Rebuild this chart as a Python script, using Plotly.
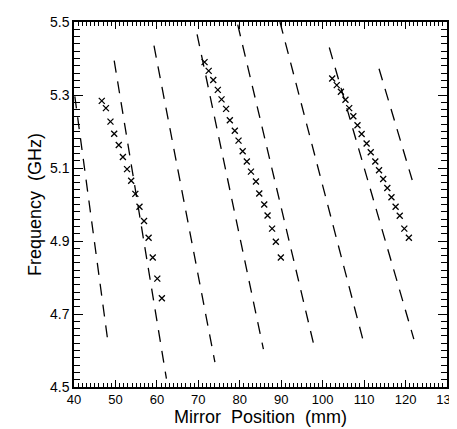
import plotly.graph_objects as go

# Measured points (x marks): mirror position (mm) vs frequency (GHz)
s1_x = [46.7, 47.7, 48.8, 49.7, 50.8, 51.8, 52.8, 53.8, 54.8, 55.8, 56.9, 58.0, 59.0, 60.1, 61.2]
s1_y = [5.284, 5.264, 5.227, 5.194, 5.163, 5.130, 5.097, 5.065, 5.029, 4.994, 4.955, 4.909, 4.855, 4.797, 4.743]

s2_x = [71.5, 72.5, 73.6, 74.7, 75.6, 76.7, 77.6, 78.8, 79.7, 80.7, 81.7, 82.7, 83.9, 84.7, 85.9, 86.7, 87.8, 88.7, 89.9]
s2_y = [5.390, 5.366, 5.341, 5.314, 5.288, 5.262, 5.231, 5.202, 5.175, 5.146, 5.118, 5.090, 5.063, 5.030, 5.000, 4.970, 4.934, 4.898, 4.855]

s3_x = [102.3, 103.4, 104.4, 105.5, 106.4, 107.4, 108.4, 109.4, 110.6, 111.6, 112.7, 113.6, 114.6, 115.6, 116.6, 117.6, 118.6, 119.7, 120.8]
s3_y = [5.345, 5.327, 5.309, 5.287, 5.264, 5.242, 5.217, 5.193, 5.167, 5.143, 5.118, 5.094, 5.070, 5.045, 5.020, 4.994, 4.969, 4.934, 4.909]

# Dashed (calculated) mode lines: start and end points
line_x_start = [40.2, 49.7, 59.3, 69.7, 79.5, 89.7, 101.6, 113.6]
line_y_start = [5.296, 5.394, 5.435, 5.466, 5.493, 5.500, 5.430, 5.372]
line_x_end = [48.1, 62.3, 74.0, 85.7, 98.1, 110.0, 122.0, 121.6]
line_y_end = [4.631, 4.523, 4.568, 4.604, 4.604, 4.617, 4.631, 5.067]

x_range = [40, 130]
y_range = [4.5, 5.5]

FONT = "Liberation Sans, Arial, sans-serif"

fig = go.Figure()

for xs, ys, xe, ye in zip(line_x_start, line_y_start, line_x_end, line_y_end):
    fig.add_trace(go.Scatter(
        x=[xs, xe], y=[ys, ye], mode="lines",
        line=dict(color="black", width=1.3, dash="12px,9px"),
        showlegend=False))

for sx, sy in [(s1_x, s1_y), (s2_x, s2_y), (s3_x, s3_y)]:
    fig.add_trace(go.Scatter(
        x=sx, y=sy, mode="markers",
        marker=dict(symbol="x-thin", size=6, color="black",
                    line=dict(width=1.3, color="black")),
        showlegend=False))

fig.update_layout(
    width=457, height=429,
    margin=dict(l=66, r=18, t=14, b=50),
    paper_bgcolor="white", plot_bgcolor="white",
    font=dict(family=FONT, color="black", size=14),
)
fig.update_xaxes(
    range=x_range, tick0=40, dtick=10, ticks="inside", ticklen=7, tickwidth=1.3,
    tickcolor="black", showline=True, linecolor="black", linewidth=1.5,
    mirror="allticks", showgrid=False, zeroline=False, automargin=False, layer="above traces",
    minor=dict(dtick=1, ticks="inside", ticklen=4, tickcolor="black", tickwidth=1),
    tickfont_size=13,
    title_text="Mirror\u00a0\u00a0Position\u00a0\u00a0(mm)", title_font_size=18, title_standoff=2,
)
fig.update_yaxes(
    range=y_range, tick0=4.5, dtick=0.2, ticks="inside", ticklen=9, tickwidth=1.3,
    tickcolor="black", showline=True, linecolor="black", linewidth=1.5,
    mirror="allticks", showgrid=False, zeroline=False, tickformat=".1f",
    automargin=False, layer="above traces",
    minor=dict(dtick=0.02, ticks="inside", ticklen=6, tickcolor="black", tickwidth=1),
    tickfont_size=14,
    title_text="Frequency\u00a0\u00a0(GHz)", title_font_size=18, title_standoff=4,
)

fig.write_html("out.html")
